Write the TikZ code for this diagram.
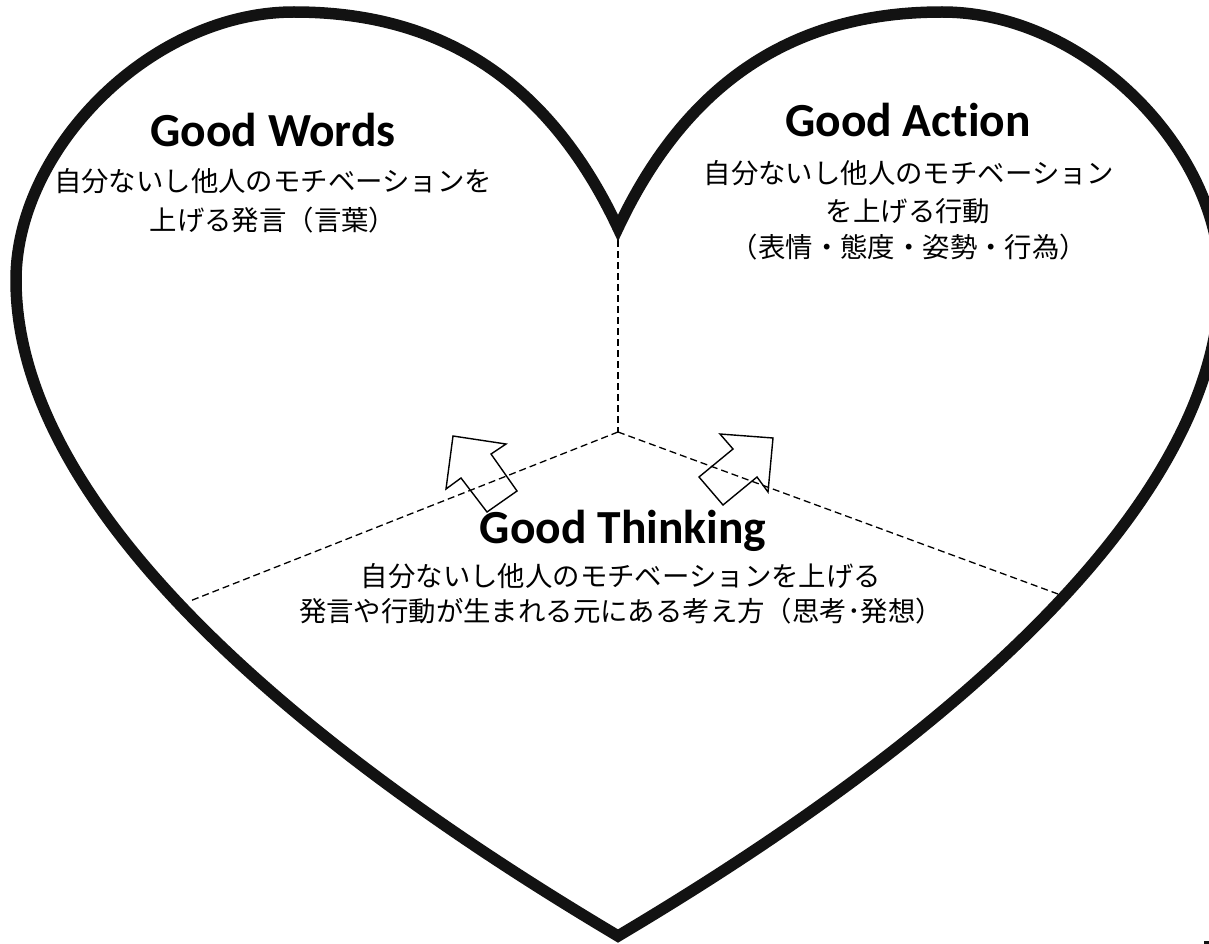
\documentclass[tikz,border=0pt]{standalone}
\usepackage{fontspec}
\newfontfamily\enfont[Ligatures=NoCommon]{Carlito}
\newfontfamily\jpfont{Noto Sans CJK JP}
\begin{document}
\begin{tikzpicture}[x=1pt,y=-1pt,
  heart/.style={line width=11.5pt, draw=black!93, line join=miter},
  divider/.style={line width=1.3pt, dash pattern=on 7pt off 4pt},
  blockarrow/.style={line width=1.4pt, line join=miter},
  title/.style={font=\enfont\bfseries\fontsize{47.5}{57}\selectfont, anchor=base, inner sep=0pt},
  desc/.style={font=\jpfont\fontsize{27.4}{32}\selectfont, anchor=base, inner sep=0pt}]
\useasboundingbox (0,0) rectangle (1209,944);
\clip (0,0) rectangle (1209,944);
\fill[white] (0,0) rectangle (1209,944);

% dividers
\coordinate (notch) at (618,240);
\coordinate (hub) at (618,432);
\coordinate (leftend) at (190,601);
\coordinate (rightend) at (1058,594);
\draw[divider] (notch) -- (hub);
\draw[divider] (hub) -- (leftend);
\draw[divider] (hub) -- (rightend);

% heart outline
\draw[heart] (618,228) .. controls (540,62) and (420,12) .. (294,12)
  .. controls (150,12) and (16,150) .. (16,280)
  .. controls (16,560) and (440,830) .. (618,936)
  .. controls (796,830) and (1220,560) .. (1220,280)
  .. controls (1220,150) and (1086,12) .. (942,12)
  .. controls (816,12) and (696,62) .. cycle;

% block arrows
\draw[blockarrow] (453,436) -- (506,444) -- (491,454) -- (517,491) -- (487,512) -- (461,478) -- (446,489) -- cycle;
\draw[blockarrow] (773,438) -- (720,434) -- (733,449) -- (699,477) -- (723,505) -- (757,477) -- (768,492) -- cycle;

% texts
\node[title] (wt) at (273,147) {Good Words};
\node[desc] (w1) at (273,191) {自分ないし他人のモチベーションを};
\node[desc] (w2) at (273,230) {上げる発言（言葉）};

\node[title] (at) at (908,137) {Good Action};
\node[desc] (a1) at (909,184) {自分ないし他人のモチベーション};
\node[desc] (a2) at (908,221) {を上げる行動};
\node[desc] (a3) at (909,257) {（表情・態度・姿勢・行為）};

\node[title] (tt) at (623,543) {Good Thinking};
\node[desc] (t1) at (621,586) {自分ないし他人のモチベーションを上げる};
\node[desc] (t2) at (621,621) {発言や行動が生まれる元にある考え方（思考･発想）};

\fill[black!93] (1204,941) rectangle (1209,944);
\end{tikzpicture}
\end{document}
